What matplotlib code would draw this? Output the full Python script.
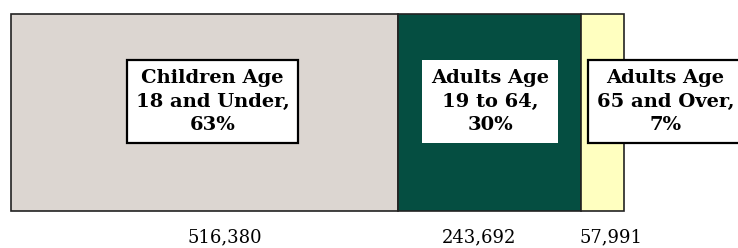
import matplotlib
matplotlib.use("Agg")
import matplotlib.pyplot as plt

# population by age group
groups = ["Children Age\n18 and Under,\n63%", "Adults Age\n19 to 64,\n30%", "Adults Age\n65 and Over,\n7%"]
counts = [516380, 243692, 57991]
value_labels = ["516,380", "243,692", "57,991"]
colors = ["#dcd6d1", "#054e41", "#ffffc0"]

W, H = 738, 248
fig = plt.figure(figsize=(W / 100, H / 100), dpi=100)
ax = fig.add_axes([0, 0, 1, 1])

total = sum(counts)
left_px, right_px = 11, 624
scale = total / (right_px - left_px)
ax.set_xlim(-left_px * scale, (W - left_px) * scale)
top_px, bot_px = 14, 211
bh = bot_px - top_px
ax.set_ylim(-0.5 - (H - bot_px) / bh, 0.5 + top_px / bh)
ax.axis("off")

lefts = []
acc = 0
for c in counts:
    lefts.append(acc)
    acc += c

ax.barh(0, counts, left=lefts, height=1, color=colors, edgecolor="#222222", linewidth=1.2)

# label boxes (offsets in pixels, as in the original)
box_dx = [8, 1, 63]
edge = ["black", "none", "black"]
for i in range(3):
    cx = lefts[i] + counts[i] / 2
    ax.annotate(groups[i], (cx, 0.055), xytext=(box_dx[i] * 0.72, 0), textcoords="offset points",
                ha="center", va="center", family="DejaVu Serif", weight="bold", fontsize=14,
                linespacing=1.4, annotation_clip=False,
                bbox=dict(boxstyle="square,pad=0.45", fc="white", ec=edge[i], lw=1.6))

val_dx = [20, -10, 9]
for i in range(3):
    cx = lefts[i] + counts[i] / 2
    ax.annotate(value_labels[i], (cx, -0.632), xytext=(val_dx[i] * 0.72, 0), textcoords="offset points",
                ha="center", va="center", family="DejaVu Serif", fontsize=13)

fig.savefig("out.png", dpi=100)
